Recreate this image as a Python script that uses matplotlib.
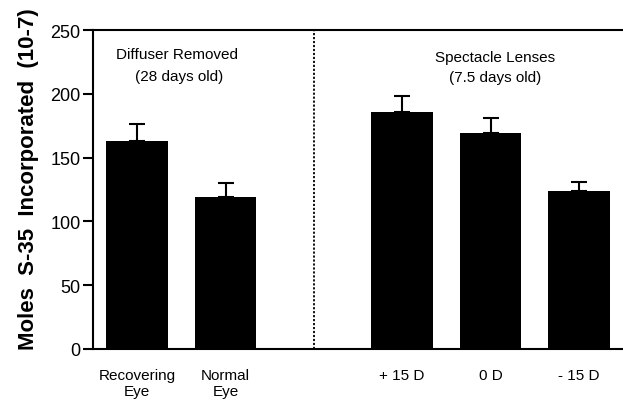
import numpy as np
from matplotlib import pyplot as plt

plt.rcParams['font.family'] = ['Liberation Sans', 'DejaVu Sans']

positions = [0, 1, 3, 4, 5]
values = [163, 119, 186, 169, 124]
errors = [13, 11, 12, 12, 7]
tick_labels = ['Recovering\nEye', 'Normal\nEye', '+ 15 D', '0 D', '- 15 D']

fig = plt.figure(figsize=(6.23, 4.02), dpi=100)
ax = fig.add_axes([93 / 623, 52 / 402, 1 - 93 / 623, 319 / 402])

ax.bar(positions, values, width=0.7, color='black', zorder=2)
ax.errorbar(positions, values, yerr=[np.zeros(len(errors)), errors], fmt='none',
            ecolor='black', elinewidth=1.5, capsize=6, capthick=1.5, zorder=1)

ax.axvline(2, color='black', linestyle=(0, (1.2, 1.0)), linewidth=1.3)

ax.set_xlim(-0.5, 5.5)
ax.set_ylim(0, 250)
ax.set_yticks([0, 50, 100, 150, 200, 250])
ax.set_xticks(positions)
ax.set_xticklabels(tick_labels, fontsize=11, linespacing=1.1)
ax.tick_params(axis='x', length=0, pad=14)
ax.tick_params(axis='y', length=7, width=1.5, labelsize=13, direction='out', pad=2)

for side in ['left', 'bottom', 'top']:
    ax.spines[side].set_linewidth(1.5)
ax.spines['right'].set_visible(False)

ax.text(0.45, 228, 'Diffuser Removed', ha='center', fontsize=11)
ax.text(0.48, 211, '(28 days old)', ha='center', fontsize=11)
ax.text(4.05, 226, 'Spectacle Lenses', ha='center', fontsize=11)
ax.text(4.05, 210, '(7.5 days old)', ha='center', fontsize=11)

ax.set_ylabel('Moles  S-35  Incorporated  (10-7)', fontsize=16, fontweight='bold')
ax.yaxis.set_label_coords(-0.102, 0.535)

fig.savefig('out.png', dpi=100)
